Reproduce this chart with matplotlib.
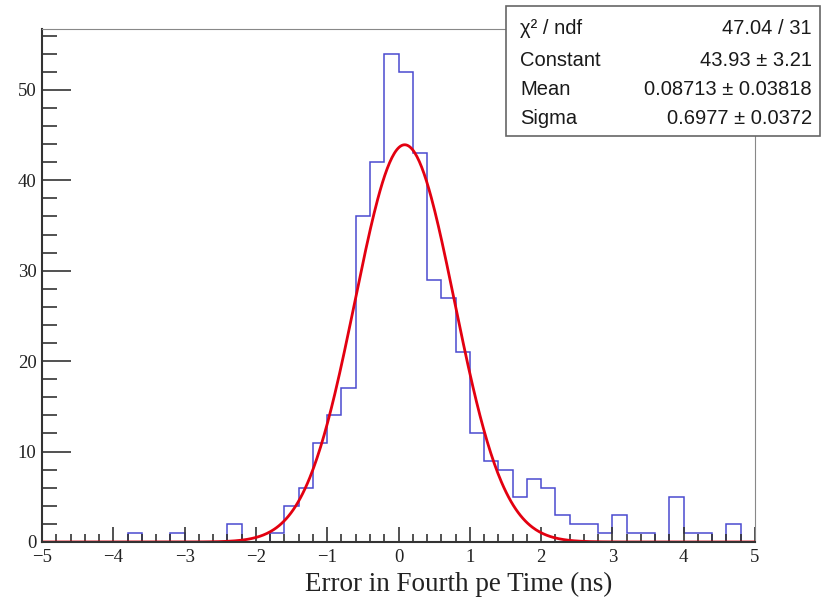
import numpy as np
import matplotlib
matplotlib.use('Agg')
import matplotlib.pyplot as plt
from matplotlib.ticker import MultipleLocator
from matplotlib.patches import Rectangle

# histogram: 50 bins of 0.2 ns from -5 to 5
bin_edges = np.linspace(-5, 5, 51)
counts = [0, 0, 0, 0, 0, 0, 1, 0, 0, 1,
          0, 0, 0, 2, 0, 0, 1, 4, 6, 11,
          14, 17, 36, 42, 54, 52, 43, 29, 27, 21,
          12, 9, 8, 5, 7, 6, 3, 2, 2, 1,
          3, 1, 1, 0, 5, 1, 1, 0, 2, 0]

# gaussian fit result
fit_const = 43.93
fit_mean = 0.08713
fit_sigma = 0.6977

stat_names = ['\u03c7\u00b2 / ndf', 'Constant', 'Mean', 'Sigma']
stat_values = ['47.04 / 31', '43.93 \u00b1 3.21',
               '0.08713 \u00b1 0.03818', '0.6977 \u00b1 0.0372']

W, H = 823, 599


def main():
    fig = plt.figure(figsize=(W / 100, H / 100), dpi=100)
    ax = fig.add_axes([42 / W, 1 - 542 / H, (755 - 42) / W, (542 - 29.3) / H])

    ax.stairs(counts, bin_edges, color='#4a4ad0', linewidth=1.1)

    xs = np.linspace(-5, 5, 600)
    ax.plot(xs, fit_const * np.exp(-0.5 * ((xs - fit_mean) / fit_sigma) ** 2),
            color='#e30010', linewidth=2)

    ax.set_xlim(-5, 5)
    ax.set_ylim(0, max(counts) * 1.05)

    ax.xaxis.set_major_locator(MultipleLocator(1))
    ax.xaxis.set_minor_locator(MultipleLocator(0.2))
    ax.yaxis.set_major_locator(MultipleLocator(10))
    ax.yaxis.set_minor_locator(MultipleLocator(2))
    ax.tick_params(which='both', direction='in', top=False, right=False,
                   color='#333333', width=1.2)
    ax.tick_params(axis='x', which='major', length=11, pad=5)
    ax.tick_params(axis='x', which='minor', length=6)
    ax.tick_params(axis='y', which='major', length=21, pad=4)
    ax.tick_params(axis='y', which='minor', length=11)
    for lab in ax.get_xticklabels() + ax.get_yticklabels():
        lab.set_fontfamily('Liberation Serif')
        lab.set_fontsize(13.5)
        lab.set_color('#222222')

    ax.spines['left'].set_color('#333333')
    ax.spines['bottom'].set_color('#333333')
    ax.spines['left'].set_linewidth(1.5)
    ax.spines['bottom'].set_linewidth(1.5)
    ax.spines['top'].set_color('#888888')
    ax.spines['right'].set_color('#888888')

    fig.text(459 / W, 1 - 584 / H, 'Error in Fourth pe Time (ns)',
             family='Liberation Serif', fontsize=19.5, color='#222222',
             ha='center', va='center')

    # stats box
    box = Rectangle((506 / W, 1 - 136 / H), (820 - 506) / W, (136 - 6) / H,
                    transform=fig.transFigure, facecolor='white',
                    edgecolor='#666666', linewidth=1.2, zorder=5)
    fig.add_artist(box)
    baselines = [34, 66, 95, 124]
    for name, val, yb in zip(stat_names, stat_values, baselines):
        fig.text(520 / W, 1 - yb / H, name, family='Liberation Sans',
                 fontsize=14.5, color='#1a1a1a', ha='left', va='baseline', zorder=6)
        fig.text(812 / W, 1 - yb / H, val, family='Liberation Sans',
                 fontsize=14.5, color='#1a1a1a', ha='right', va='baseline', zorder=6)

    fig.savefig('out.png', dpi=100)


if __name__ == '__main__':
    main()
